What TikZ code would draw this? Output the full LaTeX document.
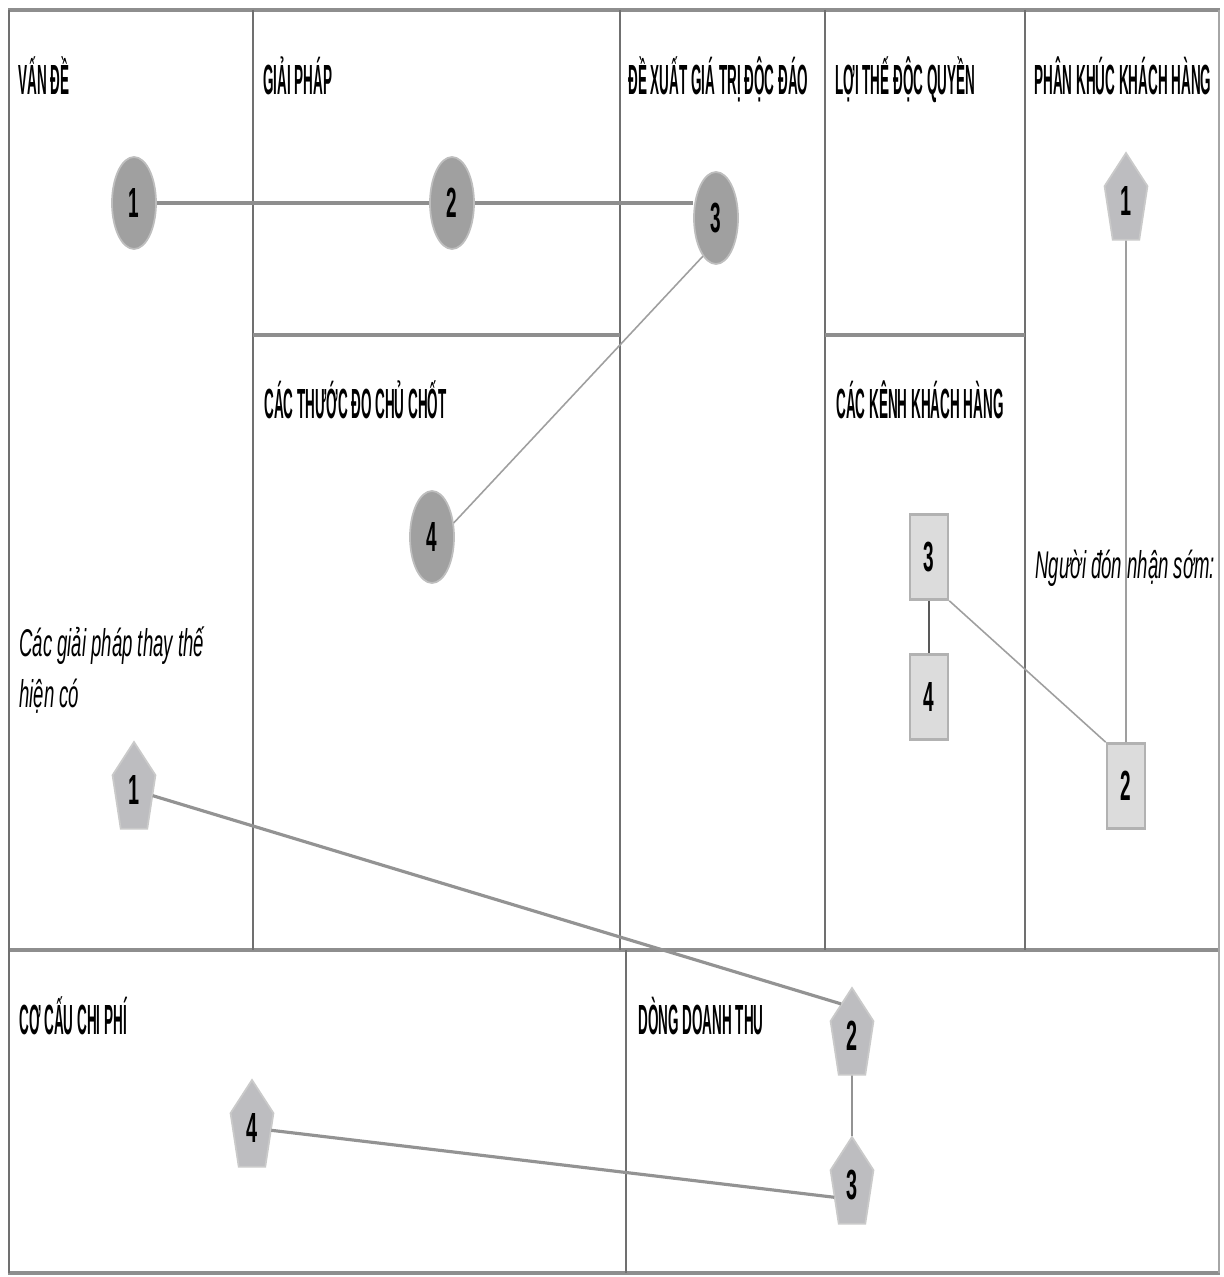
\documentclass[tikz,border=0pt]{standalone}
\usepackage{fontspec}
\setmainfont{Liberation Sans}
\newfontfamily\headfont[FakeStretch=0.32]{Liberation Sans}
\newfontfamily\notefont[FakeStretch=0.48]{Liberation Sans}
\newfontfamily\numfont[FakeStretch=0.45]{Liberation Sans}
\usepackage{tikz}
\usetikzlibrary{shapes,shapes.geometric,positioning}

\definecolor{framegray}{HTML}{8E8E8E}
\definecolor{divgray}{HTML}{707070}
\definecolor{ovalfill}{HTML}{A0A0A0}
\definecolor{ovalline}{HTML}{BEBEBE}
\definecolor{pentfill}{HTML}{BDBDC0}
\definecolor{pentline}{HTML}{CACACA}
\definecolor{boxfill}{HTML}{DCDCDC}
\definecolor{boxline}{HTML}{B2B2B2}

\begin{document}
\begin{tikzpicture}[x=0.02cm, y=-0.02cm,
  head/.style={anchor=base west, inner sep=0pt,
    font=\headfont\bfseries\fontsize{24}{28}\selectfont},
  note/.style={anchor=base west, inner sep=0pt, align=left,
    font=\notefont\itshape\fontsize{22}{28.5}\selectfont},
  oval/.style={ellipse, draw=ovalline, fill=ovalfill, line width=1pt,
    minimum width=0.88cm, minimum height=1.84cm, inner sep=0pt,
    font=\numfont\bfseries\fontsize{24}{28}\selectfont},
  pent/.style={regular polygon, regular polygon sides=5, draw=pentline,
    fill=pentfill, line width=1pt, minimum size=1.92cm, inner sep=0pt,
    xscale=0.47, transform shape, font=\bfseries\fontsize{24}{28}\selectfont},
  card/.style={rectangle, draw=boxline, fill=boxfill, line width=1.5pt,
    minimum width=0.76cm, minimum height=1.7cm, inner sep=0pt,
    font=\numfont\bfseries\fontsize{24}{28}\selectfont},
  heavy/.style={line width=2.4pt, framegray},
  mid/.style={line width=1.8pt, gray!85},
  thin/.style={line width=0.9pt, gray!75},
  dark/.style={line width=0.6pt, black!65},
]
\useasboundingbox (0,0) rectangle (1223,1277);

%% Frame
\draw[heavy] (8,10) -- (1220,10);
\draw[heavy] (8,950) -- (1220,950);
\draw[heavy] (8,1273) -- (1220,1273);
\draw[line width=0.8pt, divgray] (9,10) -- (9,1273);
\draw[line width=0.8pt, gray!70] (1219,10) -- (1219,1273);
\foreach \xx in {253,620,825,1025}
  \draw[line width=0.8pt, divgray] (\xx,10) -- (\xx,950);
\draw[heavy] (253,335) -- (620,335);
\draw[heavy] (825,335) -- (1025,335);
\draw[line width=0.8pt, divgray] (626,950) -- (626,1273);

%% Headers
\node[head] (hvande)   at (18,95)    {VẤN ĐỀ};
\node[head] (hgiaiphap) at (263,95)  {GIẢI PHÁP};
\node[head] (hdexuat)  at (628,95)   {ĐỀ XUẤT GIÁ TRỊ ĐỘC ĐÁO};
\node[head] (hloithe)  at (835,95)   {LỢI THẾ ĐỘC QUYỀN};
\node[head] (hphankhuc) at (1034,95) {PHÂN KHÚC KHÁCH HÀNG};
\node[head] (hthuocdo) at (264,418)  {CÁC THƯỚC ĐO CHỦ CHỐT};
\node[head] (hkenh)    at (836,418)  {CÁC KÊNH KHÁCH HÀNG};
\node[head] (hchiphi)  at (19,1034)  {CƠ CẤU CHI PHÍ};
\node[head] (hdoanhthu) at (638,1034) {DÒNG DOANH THU};

%% Notes
\node[note] (naltern) at (19,707) {Các giải pháp thay thế\\hiện có};
\node[note] (nearly)  at (1035,578) {Người đón nhận sớm:};

%% Ovals
\node[oval] (e1) at (134,203) {1};
\node[oval] (e2) at (452,203) {2};
\node[oval] (e3) at (716,218) {3};
\node[oval] (e4) at (432,537) {4};

%% Pentagons
\node[pent] (r1) at (1126,201) {1};
\node[pent] (p1) at (134,790)  {1};
\node[pent] (q2) at (852,1036) {2};
\node[pent] (q3) at (852,1185) {3};
\node[pent] (q4) at (252,1128) {4};

%% Cards
\node[card] (s3) at (929,557)  {3};
\node[card] (s4) at (929,697)  {4};
\node[card] (s2) at (1126,786) {2};

%% Links
\draw[heavy] (e1) -- (e2);
\draw[heavy] (e2) -- (e2 -| e3.west);
\draw[thin] (e3.-109) -- (e4.33);
\draw[mid] (p1) -- (q2.side 1);
\draw[mid] (q4) -- (q3.side 2);
\draw[dark] (q2) -- (q3);
\draw[dark] (s3) -- (s4);
\draw[thin] (s3.south east) -- (s2.north west);
\draw[thin] (r1) -- (s2);

\end{tikzpicture}
\end{document}
